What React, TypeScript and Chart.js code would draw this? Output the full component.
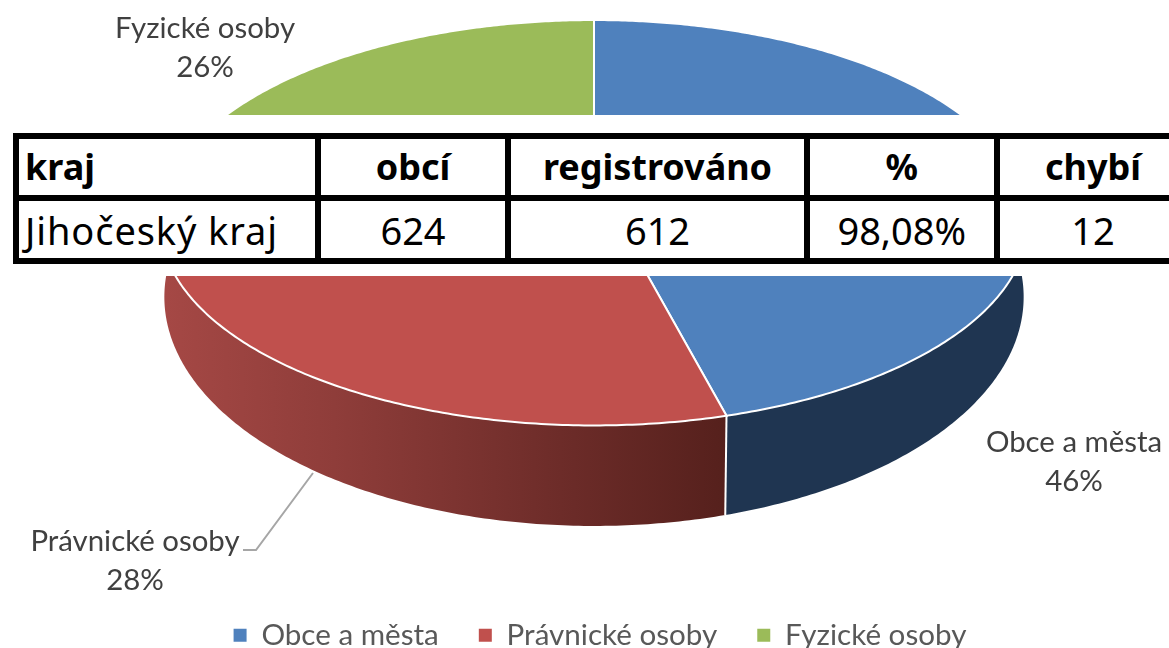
import React, { useEffect, useRef } from "react";
import { Chart, registerables } from "chart.js";

Chart.register(...registerables);

const categories = ["Obce a města", "Právnické osoby", "Fyzické osoby"];
const shares = [46, 28, 26];
const faceColors = ["#4F81BD", "#C0504D", "#9BBB59"];
const tableHead = ["kraj", "obcí", "registrováno", "%", "chybí"];
const tableRow = ["Jihočeský kraj", "624", "612", "98,08%", "12"];
const columnWidths = [302, 190, 299, 189.5, 193];
const labelPlaces = [
  { x: 1074, y: 443 },
  { x: 135, y: 542 },
  { x: 205, y: 29 },
];

const FONT = "Lato, sans-serif";
const TABLE_FONT = "'Noto Sans', sans-serif";
const PERSPECTIVE = 0.2108;
const CX = 594;
const TOP_RIM = { y0: 180, a: 424, b: 193.7 };
const LOW_RIM = { y0: 248.7, a: 420, b: 218.8 };

const project = (rim: any, theta: number) => {
  const u = Math.sin(theta);
  const v = -Math.cos(theta);
  const d = 1 - PERSPECTIVE * v;
  return { x: CX + (rim.a * u) / d, y: rim.y0 + (rim.b * v) / d };
};

const rimPoints = (rim: any, a0: number, a1: number) => {
  const n = Math.max(2, Math.ceil(Math.abs(a1 - a0) / 0.01));
  const pts = [];
  for (let i = 0; i <= n; i++) pts.push(project(rim, a0 + ((a1 - a0) * i) / n));
  return pts;
};

const pie3d = {
  id: "pie3d",
  beforeDatasetsDraw(chart: any) {
    const ctx = chart.ctx;
    const arcs = chart.getDatasetMeta(0).data;
    const angles = arcs.map((arc: any) => [
      arc.startAngle + Math.PI / 2,
      arc.endAngle + Math.PI / 2,
    ]);
    const redWall = ctx.createLinearGradient(165, 0, 730, 0);
    redWall.addColorStop(0, "#A54845");
    redWall.addColorStop(0.3, "#8F3D3A");
    redWall.addColorStop(0.7, "#6D2C29");
    redWall.addColorStop(1, "#55201C");
    const wallFills = ["#1F3551", redWall, "#64802F"];

    ctx.save();
    [2, 0, 1].forEach((i) => {
      const [a0, a1] = angles[i];
      const upper = rimPoints(TOP_RIM, a0, a1);
      const lower = rimPoints(LOW_RIM, a1, a0);
      ctx.beginPath();
      [...upper, ...lower].forEach((p, k) =>
        k ? ctx.lineTo(p.x, p.y) : ctx.moveTo(p.x, p.y)
      );
      ctx.closePath();
      ctx.fillStyle = wallFills[i];
      ctx.fill();
    });
    // seam between the blue and red walls
    const seamA = project(TOP_RIM, angles[0][1]);
    const seamB = project(LOW_RIM, angles[0][1]);
    ctx.strokeStyle = "#FFFFFF";
    ctx.lineWidth = 2;
    ctx.beginPath();
    ctx.moveTo(seamA.x, seamA.y);
    ctx.lineTo(seamB.x, seamB.y);
    ctx.stroke();

    angles.forEach(([a0, a1]: number[], i: number) => {
      ctx.beginPath();
      ctx.moveTo(CX, TOP_RIM.y0);
      rimPoints(TOP_RIM, a0, a1).forEach((p) => ctx.lineTo(p.x, p.y));
      ctx.closePath();
      ctx.fillStyle = faceColors[i];
      ctx.fill();
      ctx.strokeStyle = "#FFFFFF";
      ctx.lineWidth = 2;
      ctx.stroke();
    });

    // leader line
    ctx.strokeStyle = "#A6A6A6";
    ctx.lineWidth = 2;
    ctx.beginPath();
    ctx.moveTo(243, 550);
    ctx.lineTo(256, 550);
    ctx.lineTo(313, 473);
    ctx.stroke();

    // data labels
    ctx.fillStyle = "#404040";
    ctx.font = `29.4px ${FONT}`;
    ctx.textAlign = "center";
    ctx.textBaseline = "middle";
    categories.forEach((name, i) => {
      ctx.fillText(name, labelPlaces[i].x, labelPlaces[i].y);
      ctx.fillText(`${shares[i]}%`, labelPlaces[i].x, labelPlaces[i].y + 39);
    });
    ctx.restore();
    return false;
  },
};

const cell: React.CSSProperties = {
  border: "6px solid #000",
  padding: "0 6px",
  textAlign: "center",
  color: "#000",
  overflow: "hidden",
  whiteSpace: "nowrap",
  lineHeight: "40px",
};

export default function App() {
  const ref = useRef<HTMLCanvasElement>(null);
  useEffect(() => {
    const chart = new Chart(ref.current!, {
      type: "pie",
      data: {
        labels: categories,
        datasets: [{ data: shares, backgroundColor: faceColors, borderWidth: 0 }],
      },
      plugins: [pie3d],
      options: {
        animation: false,
        responsive: false,
        layout: { padding: { left: 31, bottom: -12 } },
        plugins: {
          tooltip: { enabled: false },
          legend: {
            position: "bottom",
            labels: {
              boxWidth: 13,
              boxHeight: 13,
              padding: 40,
              color: "#595959",
              font: { family: FONT, size: 29.6 },
            },
          },
        },
      },
    } as any);
    return () => chart.destroy();
  }, []);

  return (
    <div style={{ position: "fixed", left: 0, top: 0, width: 1169, height: 648, overflow: "hidden", background: "#fff" }}>
      <canvas ref={ref} width={1169} height={648} style={{ display: "block" }} />
      <div style={{ position: "absolute", left: 0, top: 115, width: 1169, height: 161, background: "#fff" }}>
        <table
          style={{
            position: "absolute",
            left: 13,
            top: 18,
            borderCollapse: "collapse",
            tableLayout: "fixed",
            width: columnWidths.reduce((s, w) => s + w, 0),
            fontFamily: TABLE_FONT,
          }}
        >
          <colgroup>
            {columnWidths.map((w, i) => (
              <col key={i} style={{ width: w }} />
            ))}
          </colgroup>
          <tbody>
            <tr style={{ height: 62 }}>
              {tableHead.map((t, i) => (
                <td key={i} style={{ ...cell, fontSize: 36, fontWeight: 700, textAlign: i ? "center" : "left" }}>{t}</td>
              ))}
            </tr>
            <tr style={{ height: 63 }}>
              {tableRow.map((t, i) => (
                <td key={i} style={{ ...cell, fontSize: 38, textAlign: i ? "center" : "left", letterSpacing: i ? 0 : 0.9 }}>{t}</td>
              ))}
            </tr>
          </tbody>
        </table>
      </div>
    </div>
  );
}
